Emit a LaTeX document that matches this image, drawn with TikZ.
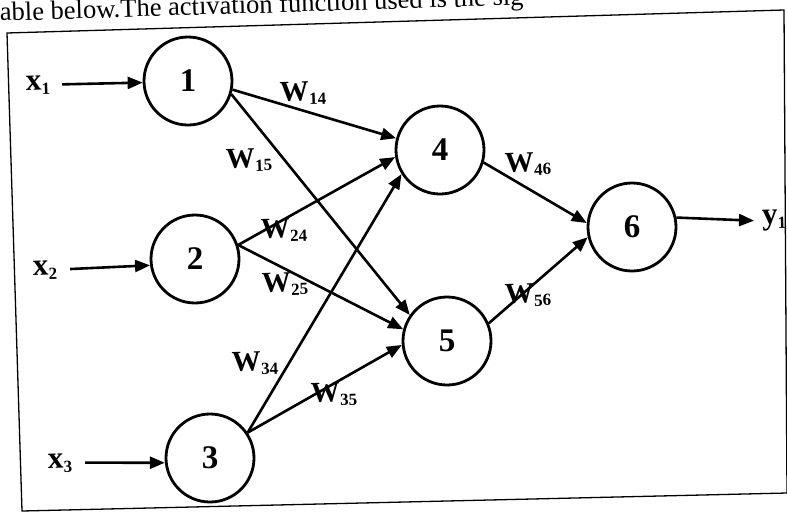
\documentclass[tikz,border=0pt]{standalone}
\usepackage{fontspec}
\setmainfont{Liberation Serif}
\usetikzlibrary{arrows.meta}
\newcommand{\sublab}[2]{#1\raisebox{-0.14em}{\fontsize{17}{17}\selectfont #2}}
\begin{document}
\begin{tikzpicture}[x=1pt,y=-1pt,
  neuron/.style={circle,draw,line width=2.8pt,minimum size=88pt,inner sep=0pt,
    font=\bfseries\fontsize{33}{33}\selectfont},
  wlab/.style={inner sep=0pt,rotate=1.75,font=\bfseries\fontsize{29}{29}\selectfont},
  io/.style={inner sep=0pt,rotate=1.75,font=\bfseries\fontsize{31}{31}\selectfont},
  edge/.style={line width=2.6pt,-{Triangle[length=15pt,width=12pt]}},
]
\useasboundingbox (0,0) rectangle (787,512);
\clip (0,0) rectangle (787,512);

\node[anchor=base west, inner sep=0pt, rotate=1.75, font=\fontsize{26.5}{30}\selectfont] (hdr) at (0,21)
  {able below.The activation function used is the sig};

\draw[line width=1.3pt] (7,33) -- (784,10) -- (787,493) -- (22,511) -- cycle;

\node[neuron] (n1) at (188,81) {1};
\node[neuron] (n2) at (195,259) {2};
\node[neuron] (n3) at (210,458) {3};
\node[neuron] (n4) at (440,150) {4};
\node[neuron] (n5) at (447,341) {5};
\node[neuron] (n6) at (632,227) {6};

\node[io] (x1) at (38,85) {\sublab{x}{1}};
\node[io] (x2) at (45,270) {\sublab{x}{2}};
\node[io] (x3) at (60,463) {\sublab{x}{3}};
\node[io, anchor=west] (y1) at (762,221) {\sublab{y}{1}};

\node[wlab] (w14) at (303,93) {\sublab{W}{14}};
\node[wlab] (w15) at (249,160) {\sublab{W}{15}};
\node[wlab] (w24) at (284,230) {\sublab{W}{24}};
\node[wlab] (w25) at (285,284) {\sublab{W}{25}};
\node[wlab] (w34) at (255,363) {\sublab{W}{34}};
\node[wlab] (w35) at (334,394) {\sublab{W}{35}};
\node[wlab] (w46) at (528,164) {\sublab{W}{46}};
\node[wlab] (w56) at (528,295) {\sublab{W}{56}};

\draw[edge,shorten <=12pt] (x1.east) -- (n1.182);
\draw[edge,shorten <=13pt] (x2.east) -- (n2.188);
\draw[edge,shorten <=13pt] (x3.east) -- (n3.186);
\draw[edge] (n1.-11) -- (n4.165);
\draw[edge] (n1.-17) -- (n5.145);
\draw[edge] (n2.18) -- (n4.189);
\draw[edge] (n2.18) -- (n5.165);
\draw[edge] (n3.34) -- (n4.212);
\draw[edge] (n3.34) -- (n5.185);
\draw[edge] (n4.-16) -- (n6.175);
\draw[edge] (n5.23) -- (n6.193);
\draw[edge,shorten >=8pt] (n6.12) -- (y1.west);
\end{tikzpicture}
\end{document}
